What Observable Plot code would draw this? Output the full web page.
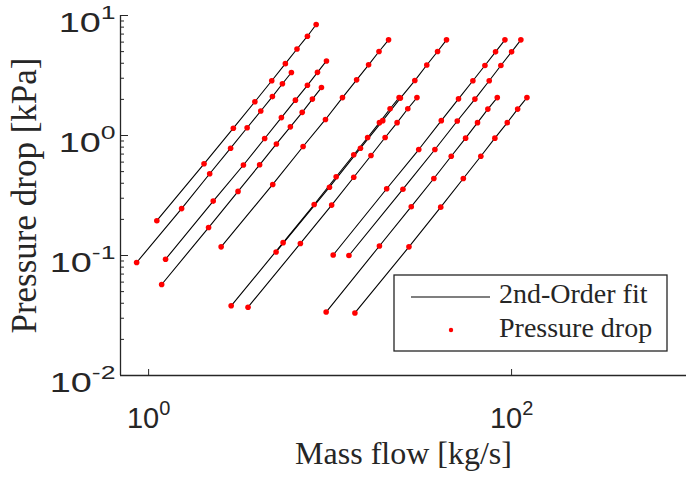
<!DOCTYPE html>
<html>
<head>
<meta charset="utf-8">
<script src="https://cdn.jsdelivr.net/npm/d3@7"></script>
<script src="https://cdn.jsdelivr.net/npm/@observablehq/plot@0.6"></script>
<style>
html, body { margin: 0; padding: 0; background: #fff; overflow: hidden; }
#chart svg { display: block; }
</style>
</head>
<body>
<div id="chart"></div>
<script>
// Mass flow [kg/s] and pressure drop [kPa] for each measured configuration
const seriesNames = ["S1","S2","S3","S4","S5","S6","S7","S8","S9","S10","S11","S12"];

const flow1 = [1.11, 2.02, 2.93, 3.85, 4.77, 5.67, 6.57, 7.50, 8.38];
const drop1 = [0.195, 0.581, 1.15, 1.91, 2.86, 3.97, 5.26, 6.72, 8.41];
const flow2 = [1.24, 2.27, 3.33, 4.36, 5.39, 6.44, 7.50, 8.52, 9.55];
const drop2 = [0.0931, 0.284, 0.568, 0.944, 1.41, 1.97, 2.62, 3.36, 4.18];
const flow3 = [0.859, 1.52, 2.17, 2.83, 3.49, 4.15, 4.81, 5.46, 6.12];
const drop3 = [0.0874, 0.246, 0.480, 0.784, 1.16, 1.60, 2.11, 2.70, 3.35];
const flow4 = [1.18, 2.14, 3.11, 4.09, 5.06, 6.04, 7.02, 7.99, 8.96];
const drop4 = [0.0573, 0.171, 0.342, 0.570, 0.850, 1.18, 1.56, 2.01, 2.51];
const flow5 = [2.51, 4.83, 7.10, 9.43, 11.7, 14.0, 16.3, 18.6, 21.0];
const drop5 = [0.118, 0.391, 0.810, 1.36, 2.07, 2.91, 3.88, 5.01, 6.27];
const flow6 = [5.04, 9.92, 14.7, 19.5, 24.4, 29.3, 34.1, 39.1, 43.8];
const drop6 = [0.107, 0.371, 0.784, 1.33, 2.05, 2.87, 3.87, 5.01, 6.27];
const flow7 = [3.53, 6.86, 10.2, 13.5, 16.8, 20.1, 23.4, 26.8, 30.1];
const drop7 = [0.0371, 0.126, 0.263, 0.449, 0.681, 0.962, 1.28, 1.67, 2.07];
const flow8 = [2.85, 5.51, 8.17, 10.8, 13.5, 16.1, 18.7, 21.4, 24.0];
const drop8 = [0.0381, 0.128, 0.266, 0.453, 0.691, 0.962, 1.28, 1.67, 2.07];
const flow9 = [10.4, 20.5, 30.8, 41.0, 51.0, 61.2, 71.3, 81.6, 91.9];
const drop9 = [0.101, 0.360, 0.764, 1.33, 2.02, 2.86, 3.83, 4.98, 6.27];
const flow10 = [12.7, 25.2, 37.8, 50.2, 62.8, 75.3, 87.3, 100, 112.5];
const drop10 = [0.100, 0.357, 0.764, 1.32, 2.01, 2.86, 3.83, 4.98, 6.27];
const flow11 = [9.51, 18.7, 28.0, 37.3, 46.5, 55.8, 64.9, 74.0, 83.4];
const drop11 = [0.0338, 0.120, 0.255, 0.438, 0.672, 0.950, 1.28, 1.66, 2.07];
const flow12 = [13.7, 27.2, 40.7, 54.2, 67.7, 80.9, 94.7, 108, 121.5];
const drop12 = [0.0332, 0.118, 0.253, 0.438, 0.672, 0.950, 1.28, 1.66, 2.07];

const flows = [flow1, flow2, flow3, flow4, flow5, flow6, flow7, flow8, flow9, flow10, flow11, flow12];
const drops = [drop1, drop2, drop3, drop4, drop5, drop6, drop7, drop8, drop9, drop10, drop11, drop12];

const xMajorTicks = [1, 100];
const yMajorTicks = [0.01, 0.1, 1, 10];
const yMinorTicks = [0.02, 0.03, 0.04, 0.05, 0.06, 0.07, 0.08, 0.09,
                     0.2, 0.3, 0.4, 0.5, 0.6, 0.7, 0.8, 0.9,
                     2, 3, 4, 5, 6, 7, 8, 9];
const xDomain = [0.7, 920];
const yDomain = [0.01, 10];

const xLabel = "Mass flow [kg/s]";
const yLabel = "Pressure drop [kPa]";
const legendLabels = ["2nd-Order fit", "Pressure drop"];

const table = [];
seriesNames.forEach((s, i) => flows[i].forEach((f, j) => table.push({series: s, flow: f, drop: drops[i][j]})));

const axisColor = "#262626";
const sans = "'Liberation Sans', Arial, sans-serif";
const serif = "'Liberation Serif', 'Times New Roman', serif";
const expFormat = d => String(Math.round(Math.log10(d)));
const noLabel = () => "";

const chart = Plot.plot({
  width: 686,
  height: 477,
  marginLeft: 120,
  marginRight: 0,
  marginTop: 15,
  marginBottom: 102,
  style: {background: "white", fontFamily: sans, fontSize: "29px", color: axisColor, overflow: "visible"},
  x: {type: "log", domain: xDomain},
  y: {type: "log", domain: yDomain},
  marks: [
    Plot.ruleX([xDomain[0]], {stroke: axisColor, strokeWidth: 1.3}),
    Plot.ruleY([yDomain[0]], {stroke: axisColor, strokeWidth: 1.3}),
    Plot.axisY({ticks: yMinorTicks, tickSize: 4, dx: 4, tickFormat: noLabel, stroke: axisColor, label: null}),
    Plot.axisY({ticks: yMajorTicks, tickSize: 8, dx: 8, tickFormat: noLabel, stroke: axisColor, label: null}),
    Plot.axisY({ticks: yMajorTicks, tickSize: 0, tickPadding: 5, tickFormat: expFormat, fill: axisColor, fontSize: 27, fontFamily: sans, label: null}),
    Plot.axisX({ticks: xMajorTicks, tickSize: 6, dy: -6, tickFormat: noLabel, stroke: axisColor, label: null}),
    Plot.axisX({ticks: xMajorTicks, tickSize: 0, tickPadding: 0, tickFormat: expFormat, fill: axisColor, fontSize: 29, fontFamily: sans, label: null}),
    Plot.line(table, {x: "flow", y: "drop", z: "series", stroke: "black", strokeWidth: 1.1}),
    Plot.dot(table, {x: "flow", y: "drop", r: 2.8, fill: "#ff0000", stroke: null}),
    Plot.text([xLabel], {frameAnchor: "bottom", dy: 88, lineAnchor: "bottom", textAnchor: "middle", fontFamily: serif, fontSize: 32, fill: axisColor}),
    Plot.text([yLabel], {frameAnchor: "left", rotate: -90, dx: -85, lineAnchor: "bottom", textAnchor: "middle", fontFamily: serif, fontSize: 35, fill: axisColor})
  ]
});

const svg = d3.select(chart);
function superscript(selector, isY) {
  svg.selectAll(selector).each(function() {
    const exp = this.textContent.replace("\u2212", "-").trim();
    if (!exp) return;
    const t = d3.select(this);
    t.text(null);
    t.attr("y", isY ? 16 : 52);
    if (isY) {
      const tr = t.attr("transform") || "";
      t.attr("transform", tr + " scale(1.4,1)");
    }
    t.append("tspan").text("10");
    t.append("tspan").attr("font-size", isY ? 19 : 20).attr("dy", -13).text(exp);
  });
}
superscript('g[aria-label="y-axis tick label"] text', true);
superscript('g[aria-label="x-axis tick label"] text', false);

// Legend box
const lg = svg.append("g").attr("class", "legend").attr("text-anchor", "start");
lg.append("rect").attr("x", 394).attr("y", 275).attr("width", 273).attr("height", 76)
  .attr("fill", "white").attr("stroke", axisColor).attr("stroke-width", 1.3);
lg.append("line").attr("x1", 411).attr("x2", 490).attr("y1", 297).attr("y2", 297)
  .attr("stroke", "black").attr("stroke-width", 1.1);
lg.append("circle").attr("cx", 451).attr("cy", 330).attr("r", 2.2).attr("fill", "#ff0000");
lg.append("text").attr("x", 499).attr("y", 303).attr("font-family", serif).attr("font-size", 28)
  .attr("text-anchor", "start").attr("fill", axisColor).text(legendLabels[0]);
lg.append("text").attr("x", 499).attr("y", 337).attr("font-family", serif).attr("font-size", 28)
  .attr("text-anchor", "start").attr("fill", axisColor).text(legendLabels[1]);

document.getElementById("chart").appendChild(chart);
</script>
</body>
</html>
